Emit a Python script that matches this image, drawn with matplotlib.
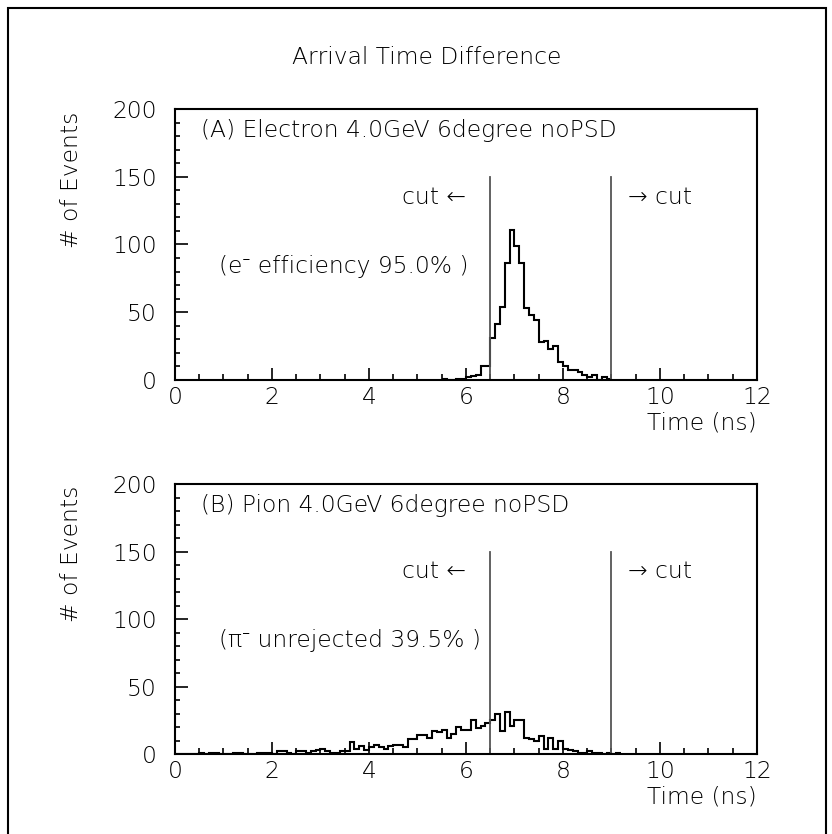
import numpy as np
import matplotlib
matplotlib.use("Agg")
import matplotlib.pyplot as plt
from matplotlib.patches import Rectangle
from matplotlib.ticker import MultipleLocator

# histogram contents, 0.1 ns bins
electron_start = 5.5
electron_counts = [1, 0, 0, 1, 1, 2, 3, 4, 10, 10,
                   31, 41, 54, 86, 111, 99, 86, 53, 48, 44,
                   28, 29, 23, 25, 13, 10, 7, 7, 6, 4,
                   2, 4, 0, 2, 1]

pion_start = 0.0
pion_counts = [0, 0, 0, 0, 0, 1, 0, 1, 1, 0,
               0, 0, 1, 1, 0, 0, 0, 1, 1, 1,
               0, 2, 2, 1, 0, 2, 2, 1, 2, 3,
               4, 2, 1, 1, 2, 2, 9, 4, 6, 3,
               5, 7, 5, 4, 6, 7, 7, 5, 11, 11,
               14, 14, 12, 17, 16, 18, 12, 15, 20, 18,
               18, 25, 19, 21, 23, 25, 30, 17, 31, 21,
               25, 25, 12, 11, 10, 13, 4, 12, 4, 10,
               4, 3, 2, 1, 1, 2, 1, 1, 0, 1,
               0, 1]
bin_width = 0.1

cut_low = 6.5
cut_high = 9.0
cut_height = 150

panel_titles = ["(A) Electron 4.0GeV 6degree noPSD", "(B) Pion 4.0GeV 6degree noPSD"]
panel_notes = ["(e\u207b efficiency 95.0% )", "(\u03c0\u207b unrejected 39.5% )"]

FS = 16.8
# light DejaVu has no superscript minus, so fall back to other families for it
plt.rcParams['font.family'] = ['DejaVu Sans', 'Noto Sans', 'Liberation Sans']
plt.rcParams['font.weight'] = 'light'

fig = plt.figure(figsize=(8.32, 8.34), dpi=100)
fig.patches.append(Rectangle((8/832, -0.05), 818/832, 1.05 - 8/834, transform=fig.transFigure,
                             fill=False, lw=1.5, ec='black'))
fig.text(427/832, 1 - 58/834, "Arrival Time Difference", ha='center', va='center', fontsize=FS)

axes_boxes = [[0.2103, 0.5444, 0.6995, 0.3249], [0.2103, 0.0959, 0.6995, 0.3237]]
hists = [(electron_start, electron_counts), (pion_start, pion_counts)]

for i in range(2):
    ax = fig.add_axes(axes_boxes[i])
    start, counts = hists[i]
    edges = start + bin_width*np.arange(len(counts)+1)
    ax.stairs(counts, edges, color='black', lw=1.5, baseline=None)
    ax.plot([cut_low, cut_low], [0, cut_height], color='#555555', lw=1.3)
    ax.plot([cut_high, cut_high], [0, cut_height], color='#555555', lw=1.3)
    ax.set_xlim(0, 12)
    ax.set_ylim(0, 200)
    ax.xaxis.set_major_locator(MultipleLocator(2))
    ax.xaxis.set_minor_locator(MultipleLocator(0.5))
    ax.yaxis.set_major_locator(MultipleLocator(50))
    ax.yaxis.set_minor_locator(MultipleLocator(10))
    ax.tick_params(which='both', direction='in', labelsize=FS, width=1.2)
    ax.tick_params(axis='y', which='major', length=9.5, pad=13)
    ax.tick_params(axis='y', which='minor', length=3.6)
    ax.tick_params(axis='x', which='major', length=9, pad=4)
    ax.tick_params(axis='x', which='minor', length=4.2)
    for s in ax.spines.values():
        s.set_linewidth(1.5)
    ax.text(0.53, 184, panel_titles[i], fontsize=FS, va='center', ha='left')
    ax.text(0.9, 84, panel_notes[i], fontsize=FS, va='center', ha='left')
    ax.text(6.0, 135, "cut \u2190", fontsize=FS, va='center', ha='right')
    ax.text(9.35, 135, "\u2192 cut", fontsize=FS, va='center', ha='left')
    ax.text(1.0, -0.158, "Time (ns)", fontsize=FS, va='center', ha='right', transform=ax.transAxes)
    ax.text(-0.177, 0.74, "# of Events", fontsize=FS, va='center', ha='center', rotation=90,
            transform=ax.transAxes)

fig.savefig("out.png", dpi=100)
